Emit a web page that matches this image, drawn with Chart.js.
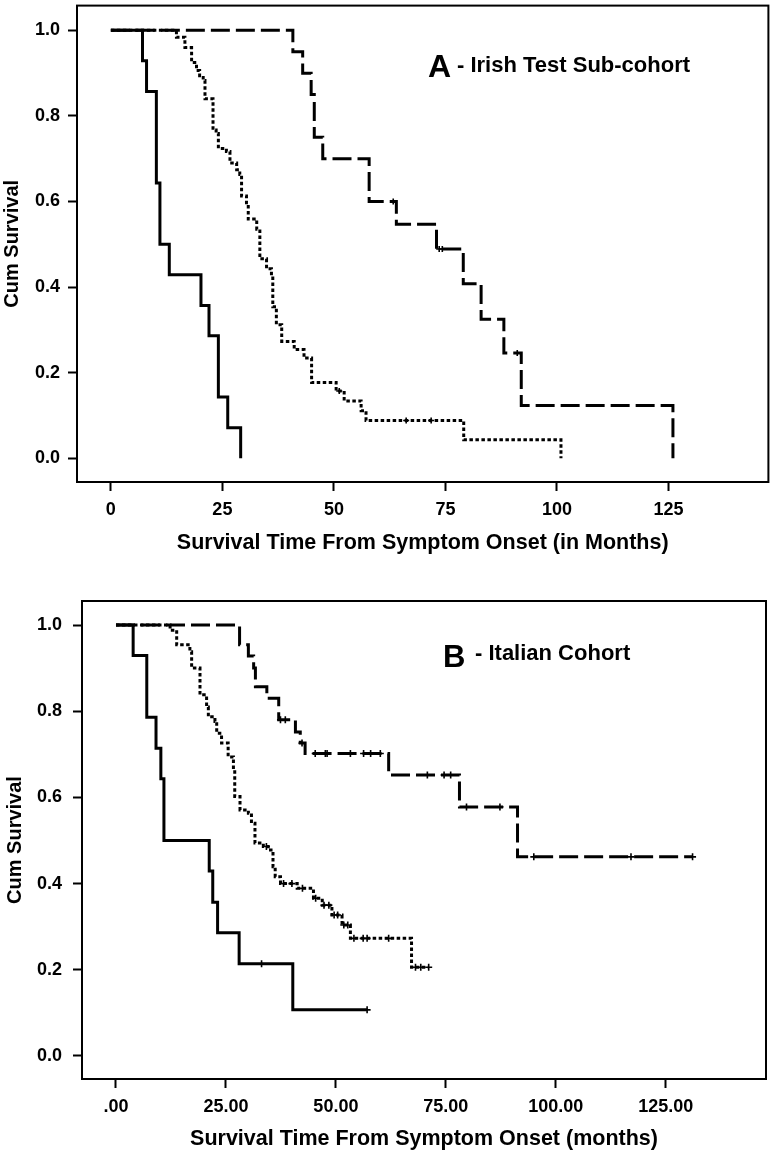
<!DOCTYPE html>
<html>
<head>
<meta charset="utf-8">
<script src="https://cdn.jsdelivr.net/npm/chart.js@4"></script>
<style>
html,body{margin:0;padding:0;background:#fff;}
body{width:774px;height:1153px;position:relative;overflow:hidden;}
canvas{position:absolute;left:0;}
#cA{top:0;}
#cB{top:575px;}
</style>
</head>
<body>
<canvas id="cA" width="774" height="575"></canvas>
<canvas id="cB" width="774" height="578"></canvas>
<script>
// ---------------- DATA ----------------
const xTicksA = [0, 25, 50, 75, 100, 125];
const xTickLabelsA = ['0', '25', '50', '75', '100', '125'];
const xTicksB = [0, 25, 50, 75, 100, 125];
const xTickLabelsB = ['.00', '25.00', '50.00', '75.00', '100.00', '125.00'];
const yTicks = [0, 0.2, 0.4, 0.6, 0.8, 1.0];
const yTickLabels = ['0.0', '0.2', '0.4', '0.6', '0.8', '1.0'];

// Panel A - Irish Test Sub-cohort
const aSolidTime = [0, 7.1, 8.0, 10.2, 11.0, 13.1, 20.2, 22.0, 24.1, 26.2, 29.1];
const aSolidSurv = [1, 0.929, 0.857, 0.643, 0.5, 0.429, 0.357, 0.286, 0.143, 0.071, 0];
const aSolidCensor = [];

const aDotTime = [0, 14.7, 16.6, 18.1, 19.2, 19.9, 20.7, 21.1, 22.9, 23.6, 24.1, 25.9, 26.7, 28.2, 28.9, 29.3, 30.4, 30.8, 32.7, 33.4, 34.9, 36.0, 36.3, 37.1, 38.3, 41.1, 43.3, 45.0, 50.5, 52.3, 56.1, 57.2, 79.1, 100.9];
const aDotSurv = [1, 0.984, 0.96, 0.925, 0.906, 0.894, 0.883, 0.84, 0.767, 0.759, 0.724, 0.717, 0.69, 0.674, 0.663, 0.613, 0.597, 0.559, 0.535, 0.466, 0.443, 0.427, 0.354, 0.312, 0.273, 0.254, 0.234, 0.177, 0.157, 0.134, 0.111, 0.088, 0.043, 0];
const aDotCensor = [51.2, 66.2, 71.8];

const aDashTime = [0, 40.8, 43.0, 44.9, 45.6, 47.5, 57.9, 64.0, 73.0, 79.0, 83.0, 88.1, 92.0, 126.0];
const aDashSurv = [1, 0.95, 0.90, 0.85, 0.75, 0.70, 0.60, 0.547, 0.489, 0.408, 0.325, 0.246, 0.123, 0];
const aDashCensor = [63.3, 73.6, 74.3, 91.1];

// Panel B - Italian Cohort
const bSolidTime = [0, 3.9, 7.0, 9.1, 10.2, 10.9, 21.2, 22.0, 23.1, 28.0, 40.2];
const bSolidSurv = [1, 0.929, 0.786, 0.714, 0.643, 0.5, 0.429, 0.357, 0.286, 0.214, 0.107];
const bSolidCensor = [33.1, 57.1];

const bDotTime = [0, 12.3, 13.8, 16.8, 17.2, 19.1, 20.6, 21.0, 22.5, 22.9, 24.0, 25.5, 26.7, 27.0, 28.2, 30.1, 30.8, 31.6, 33.5, 34.6, 35.7, 36.2, 37.4, 41.2, 44.9, 46.9, 49.1, 51.4, 53.3, 67.2];
const bDotSurv = [1, 0.988, 0.954, 0.938, 0.9, 0.838, 0.81, 0.787, 0.776, 0.749, 0.726, 0.694, 0.664, 0.602, 0.571, 0.563, 0.54, 0.494, 0.486, 0.478, 0.439, 0.416, 0.40, 0.389, 0.366, 0.35, 0.327, 0.304, 0.273, 0.206];
const bDotCensor = [34.2, 38.1, 40.0, 42.4, 45.4, 47.3, 48.4, 49.6, 50.4, 51.8, 52.7, 54.1, 56.2, 57.1, 62.0, 68.1, 69.3, 71.1];

const bDashTime = [0, 28.1, 30.1, 31.3, 31.7, 34.3, 37.0, 40.8, 41.9, 43.0, 62.0, 78.1, 91.3];
const bDashSurv = [1, 0.954, 0.928, 0.9, 0.857, 0.83, 0.78, 0.752, 0.726, 0.702, 0.652, 0.578, 0.462];
const bDashCensor = [37.4, 38.5, 42.3, 45.3, 47.6, 48.0, 53.3, 56.3, 57.9, 60.1, 70.8, 74.6, 76.1, 79.7, 87.3, 95.0, 117.1, 131.1];

// ---------------- HELPERS ----------------
const FONT = "'Liberation Sans', Arial, Helvetica, sans-serif";

function survAt(times, surv, t) {
  let v = surv[0];
  for (let i = 0; i < times.length; i++) { if (times[i] <= t) v = surv[i]; }
  return v;
}
function curvePoints(times, surv, censors) {
  const pts = times.map((t, i) => ({ x: t, y: surv[i] }));
  const lastT = times[times.length - 1];
  const maxC = censors.length ? Math.max(...censors) : -Infinity;
  if (maxC > lastT) pts.push({ x: maxC, y: surv[surv.length - 1] });
  return pts;
}
function censorPoints(times, surv, censors) {
  return censors.map(c => ({ x: c, y: survAt(times, surv, c) }));
}
function curveDatasets(times, surv, censors, dash, crossR) {
  return [
    { data: curvePoints(times, surv, censors), stepped: 'before', borderColor: '#000',
      borderWidth: 3, borderDash: dash, borderCapStyle: 'butt', pointRadius: 0, fill: false, tension: 0 },
    { data: censorPoints(times, surv, censors), showLine: false, pointStyle: 'cross',
      pointRadius: crossR, pointBorderWidth: 1.6, pointBorderColor: '#000', borderColor: '#000' }
  ];
}
function labelFor(vals, labels) {
  return v => { const i = vals.findIndex(t => Math.abs(t - v) < 1e-9); return i >= 0 ? labels[i] : ''; };
}

const framePlugin = {
  id: 'frame',
  afterDatasetsDraw(chart) {
    const { ctx, chartArea: a } = chart;
    ctx.save();
    ctx.strokeStyle = '#000';
    ctx.lineWidth = 2;
    ctx.strokeRect(a.left, a.top, a.right - a.left, a.bottom - a.top);
    ctx.restore();
  }
};
const panelPlugin = {
  id: 'panel',
  afterDraw(chart, args, o) {
    const ctx = chart.ctx;
    ctx.save();
    ctx.fillStyle = '#000';
    ctx.textAlign = 'left';
    ctx.textBaseline = 'alphabetic';
    ctx.font = 'bold ' + o.letterSize + 'px ' + FONT;
    ctx.fillText(o.letter, o.letterX, o.letterY);
    ctx.font = 'bold ' + o.textSize + 'px ' + FONT;
    ctx.fillText(o.text, o.textX, o.textY);
    ctx.restore();
  }
};

function makeChart(id, cfg) {
  const tickFont = { family: FONT, weight: 'bold', size: 18 };
  return new Chart(document.getElementById(id), {
    type: 'line',
    data: { datasets: cfg.datasets },
    options: {
      responsive: false,
      animation: false,
      devicePixelRatio: 1,
      layout: { padding: cfg.padding },
      plugins: { legend: { display: false }, tooltip: { enabled: false }, panel: cfg.panel },
      scales: {
        x: {
          type: 'linear', min: cfg.xMin, max: cfg.xMax,
          afterBuildTicks: ax => { ax.ticks = cfg.xTicks.map(v => ({ value: v })); },
          afterFit: ax => { ax.height = cfg.xAxisHeight; ax.paddingLeft = 0; ax.paddingRight = 0; },
          ticks: { callback: labelFor(cfg.xTicks, cfg.xLabels), font: tickFont, color: '#000',
                   padding: cfg.xTickPad, maxRotation: 0, autoSkip: false },
          grid: { drawOnChartArea: false, drawTicks: true, tickLength: 9, tickWidth: 2, tickColor: '#000' },
          border: { display: false },
          title: { display: true, text: cfg.xTitle, color: '#000',
                   font: { family: FONT, weight: 'bold', size: 21.5 },
                   padding: { top: 0, bottom: cfg.xTitlePad } }
        },
        y: {
          type: 'linear', min: cfg.yMin, max: cfg.yMax,
          afterBuildTicks: ax => { ax.ticks = yTicks.map(v => ({ value: v })); },
          afterFit: ax => { ax.width = cfg.yAxisWidth; ax.paddingTop = 0; ax.paddingBottom = 0; },
          ticks: { callback: labelFor(yTicks, yTickLabels), font: tickFont, color: '#000',
                   padding: cfg.yTickPad, autoSkip: false },
          grid: { drawOnChartArea: false, drawTicks: true, tickLength: 9, tickWidth: 2, tickColor: '#000' },
          border: { display: false },
          title: { display: true, text: 'Cum Survival', color: '#000',
                   font: { family: FONT, weight: 'bold', size: 20 },
                   padding: { top: cfg.yTitlePad, bottom: 0 } }
        }
      }
    },
    plugins: [framePlugin, panelPlugin]
  });
}

const DASH = [19, 6];
const DOT = [3.5, 2.5];

makeChart('cA', {
  datasets: [
    ...curveDatasets(aSolidTime, aSolidSurv, aSolidCensor, [], 3),
    ...curveDatasets(aDotTime, aDotSurv, aDotCensor, DOT, 3),
    ...curveDatasets(aDashTime, aDashSurv, aDashCensor, DASH, 3)
  ],
  padding: { left: 0, top: 1, right: 3, bottom: 0 },
  xMin: -7.59, xMax: 147.4, yMin: -0.0556, yMax: 1.0579,
  xTicks: xTicksA, xLabels: xTickLabelsA,
  xAxisHeight: 93, yAxisWidth: 77,
  xTickPad: 8, yTickPad: 8, xTitlePad: 19, yTitlePad: 0.5,
  xTitle: 'Survival Time From Symptom Onset (in Months)',
  panel: { letter: 'A', text: '- Irish Test Sub-cohort', letterSize: 32, textSize: 22,
           letterX: 428, letterY: 77, textX: 457, textY: 72 }
});

makeChart('cB', {
  datasets: [
    ...curveDatasets(bSolidTime, bSolidSurv, bSolidCensor, [], 3.5),
    ...curveDatasets(bDotTime, bDotSurv, bDotCensor, DOT, 3.5),
    ...curveDatasets(bDashTime, bDashSurv, bDashCensor, DASH, 3.5)
  ],
  padding: { left: 0, top: 26, right: 8, bottom: 0 },
  xMin: -7.73, xMax: 147.8, yMin: -0.0534, yMax: 1.0557,
  xTicks: xTicksB, xLabels: xTickLabelsB,
  xAxisHeight: 74, yAxisWidth: 82,
  xTickPad: 8, yTickPad: 11, xTitlePad: 1, yTitlePad: 3,
  xTitle: 'Survival Time From Symptom Onset (months)',
  panel: { letter: 'B', text: '- Italian Cohort', letterSize: 31, textSize: 22,
           letterX: 443, letterY: 92, textX: 475, textY: 85 }
});
</script>
</body>
</html>
